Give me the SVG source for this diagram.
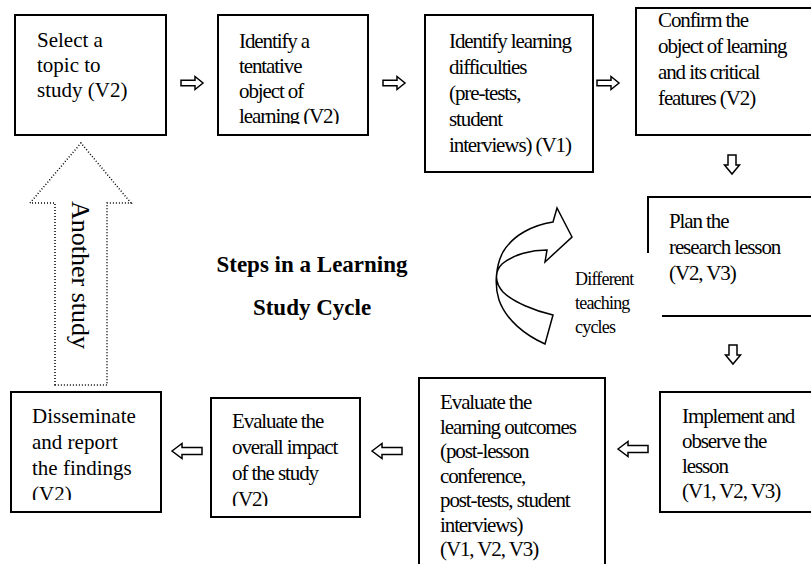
<svg xmlns="http://www.w3.org/2000/svg" width="811" height="564" viewBox="0 0 811 564">
<style>
.box{fill:#fff;stroke:#000;stroke-width:2}
.ln{fill:none;stroke:#000;stroke-width:2}
.t{font-family:"Liberation Serif","Times New Roman",serif;font-size:21px;fill:#000}
.c{letter-spacing:-1.1px}
.s{font-family:"Liberation Serif","Times New Roman",serif;font-size:18px;letter-spacing:-0.8px;fill:#000}
.title{font-family:"Liberation Serif","Times New Roman",serif;font-size:23px;font-weight:bold;fill:#000;text-anchor:middle}
.arr{fill:#fff;stroke:#000;stroke-width:1.5;stroke-linejoin:miter}
</style>
<defs>
<path id="ra" d="M0,-2.75 L14,-2.75 L14,-6.5 L22,0 L14,6.5 L14,2.75 L0,2.75 Z"/>
<path id="da" d="M-4,0 L4,0 L4,10 L7.5,10 L0,19 L-7.5,10 L-4,10 Z"/>
<path id="la" d="M0,0 L10,-7.5 L10,-3.5 L30,-3.5 L30,3.5 L10,3.5 L10,7.5 Z"/>
<clipPath id="c2"><rect x="219" y="16" width="148" height="108"/></clipPath>
<clipPath id="c5"><rect x="12" y="393" width="148" height="107"/></clipPath>
<clipPath id="c6"><rect x="212" y="399" width="147" height="107"/></clipPath>
<clipPath id="c7"><rect x="420" y="380" width="184" height="181"/></clipPath>
<clipPath id="c8"><rect x="661" y="393" width="150" height="110"/></clipPath>
</defs>

<g id="connectors">
<use href="#ra" class="arr" x="181" y="83"/>
<use href="#ra" class="arr" x="383" y="83"/>
<use href="#ra" class="arr" x="597" y="83"/>
<use href="#da" class="arr" x="732" y="155"/>
<use href="#da" class="arr" x="733" y="345"/>
<use href="#la" class="arr" x="172" y="451"/>
<use href="#la" class="arr" x="372" y="451"/>
<use href="#la" class="arr" x="618" y="449"/>
</g>

<g id="another-study">
<path d="M55,385 L55,203 L30,203 L81,143 L131,203 L107,203 L107,385 Z" fill="none" stroke="#000" stroke-width="1.5" stroke-dasharray="1 2"/>
<text class="t" transform="translate(72,201) rotate(90)" style="font-size:26px">Another study</text>
</g>

<g id="cycle-arrow">
<path class="arr" d="M553,222 C533,225 513,235 503,252 C496,265 494,285 499,300 C506,320 525,335 545,344 L553,315 C535,311 513,302 503,292 C495,283 494,272 502,264 C514,254 532,250 547,250 L545,262 L572,237 L557,208 Z"/>
<text class="s" x="575" y="285">Different</text>
<text class="s" x="575" y="309">teaching</text>
<text class="s" x="575" y="333">cycles</text>
</g>

<g id="title">
<text class="title" x="312" y="272">Steps in a Learning</text>
<text class="title" x="312" y="315">Study Cycle</text>
</g>

<g id="n1">
<rect class="box" x="15" y="15" width="151" height="120"/>
<text class="t" x="37" y="47">Select a</text>
<text class="t" x="37" y="72">topic to</text>
<text class="t" x="37" y="97">study (V2)</text>
</g>

<g id="n2">
<rect class="box" x="218" y="15" width="150" height="120"/>
<g clip-path="url(#c2)">
<text class="t c" x="239" y="48">Identify a</text>
<text class="t c" x="239" y="73">tentative</text>
<text class="t c" x="239" y="98">object of</text>
<text class="t c" x="239" y="123">learning (V2)</text>
</g>
</g>

<g id="n3">
<rect class="box" x="425" y="15" width="168" height="157"/>
<text class="t c" x="449" y="48">Identify learning</text>
<text class="t c" x="449" y="74">difficulties</text>
<text class="t c" x="449" y="100">(pre-tests,</text>
<text class="t c" x="449" y="126">student</text>
<text class="t c" x="449" y="152">interviews) (V1)</text>
</g>

<g id="n4">
<rect class="box" x="636" y="8" width="185" height="127"/>
<text class="t c" x="658" y="27">Confirm the</text>
<text class="t c" x="658" y="53">object of learning</text>
<text class="t c" x="658" y="79">and its critical</text>
<text class="t c" x="658" y="105">features (V2)</text>
</g>

<g id="n5">
<path class="ln" d="M648,253 L648,197 L815,197 M662,316 L815,316"/>
<text class="t c" x="669" y="228">Plan the</text>
<text class="t c" x="669" y="254">research lesson</text>
<text class="t c" x="669" y="280">(V2, V3)</text>
</g>

<g id="n6">
<rect class="box" x="660" y="392" width="160" height="120"/>
<g clip-path="url(#c8)">
<text class="t c" x="682" y="423">Implement and</text>
<text class="t c" x="682" y="448">observe the</text>
<text class="t c" x="682" y="473">lesson</text>
<text class="t c" x="682" y="498">(V1, V2, V3)</text>
</g>
</g>

<g id="n7">
<rect class="box" x="419" y="378" width="186" height="200"/>
<g clip-path="url(#c7)">
<text class="t c" x="440" y="409">Evaluate the</text>
<text class="t c" x="440" y="433.5">learning outcomes</text>
<text class="t c" x="440" y="458">(post-lesson</text>
<text class="t c" x="440" y="482.5">conference,</text>
<text class="t c" x="440" y="507">post-tests, student</text>
<text class="t c" x="440" y="531.5">interviews)</text>
<text class="t c" x="440" y="556">(V1, V2, V3)</text>
</g>
</g>

<g id="n8">
<rect class="box" x="211" y="398" width="149" height="119"/>
<g clip-path="url(#c6)">
<text class="t c" x="232" y="428">Evaluate the</text>
<text class="t c" x="232" y="454">overall impact</text>
<text class="t c" x="232" y="480">of the study</text>
<text class="t c" x="232" y="506">(V2)</text>
</g>
</g>

<g id="n9">
<rect class="box" x="11" y="392" width="150" height="120"/>
<g clip-path="url(#c5)">
<text class="t" x="32" y="423">Disseminate</text>
<text class="t" x="32" y="449">and report</text>
<text class="t" x="32" y="475">the findings</text>
<text class="t" x="32" y="501">(V2)</text>
</g>
</g>
</svg>
